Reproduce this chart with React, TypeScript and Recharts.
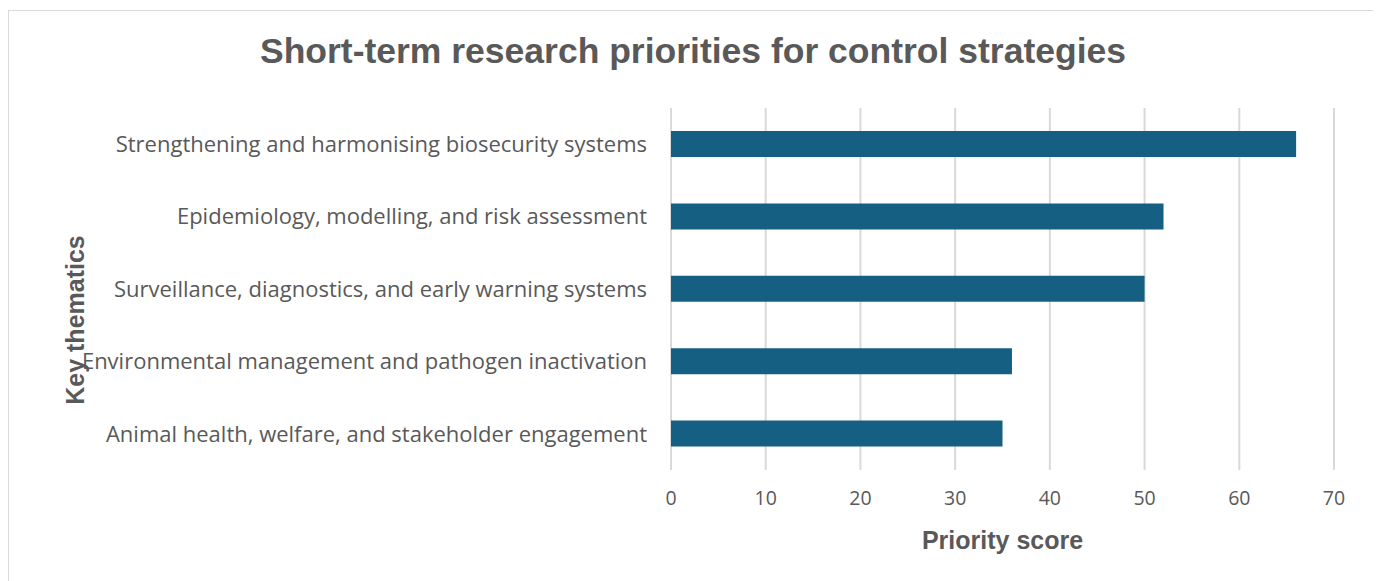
import React from "react";
import { BarChart, Bar, XAxis, YAxis, CartesianGrid, Label } from "recharts";

const themes = [
  "Strengthening and harmonising biosecurity systems",
  "Epidemiology, modelling, and risk assessment",
  "Surveillance, diagnostics, and early warning systems",
  "Environmental management and pathogen inactivation",
  "Animal health, welfare, and stakeholder engagement",
];
const scores = [66, 52, 50, 36, 35];
const xTicks = [0, 10, 20, 30, 40, 50, 60, 70];

const data = themes.map((name, i) => ({ name, score: scores[i] }));

const TEXT = "#595959";
const GRID = "#d9d9d9";
const BAR = "#156082";
const LABEL_FONT = "'Open Sans', sans-serif";
const TITLE_FONT = "'Liberation Sans', Arial, sans-serif";

// y axis title is centred on the whole chart box, not the plot
const YTitle = () => (
  <text
    x={66}
    y={309}
    transform="rotate(-90, 66, 309)"
    textAnchor="middle"
    dominantBaseline="central"
    fill={TEXT}
    fontSize={25}
    fontWeight={700}
    fontFamily={TITLE_FONT}
  >
    Key thematics
  </text>
);

export default function App() {
  return (
    <div
      style={{
        position: "relative",
        width: 1368,
        height: 575,
        marginTop: 2,
        border: `1px solid ${GRID}`,
        boxSizing: "border-box",
        background: "#fff",
      }}
    >
      <div
        style={{
          position: "absolute",
          top: 20,
          left: 0,
          width: 1368,
          textAlign: "center",
          fontFamily: TITLE_FONT,
          fontWeight: 700,
          fontSize: 35.5,
          color: TEXT,
        }}
      >
        Short-term research priorities for control strategies
      </div>
      <BarChart
        width={1366}
        height={573}
        data={data}
        layout="vertical"
        margin={{ top: 97, right: 41, left: 0, bottom: 0 }}
      >
        <CartesianGrid horizontal={false} stroke={GRID} strokeWidth={2} />
        <XAxis
          type="number"
          dataKey="score"
          domain={[0, 70]}
          ticks={xTicks}
          axisLine={false}
          tickLine={false}
          tickSize={0}
          tickMargin={21}
          tick={{ fill: TEXT, fontSize: 19.5, fontFamily: LABEL_FONT }}
          height={114}
        >
          <Label
            value="Priority score"
            position="insideBottom"
            offset={35}
            style={{ fill: TEXT, fontSize: 25, fontWeight: 700, fontFamily: TITLE_FONT }}
          />
        </XAxis>
        <YAxis
          type="category"
          dataKey="name"
          width={662}
          axisLine={false}
          tickLine={false}
          tickSize={0}
          tickMargin={24}
          tick={{ fill: TEXT, fontSize: 22, fontFamily: LABEL_FONT }}
        >
          <Label content={<YTitle />} />
        </YAxis>
        <Bar dataKey="score" fill={BAR} barSize={26} isAnimationActive={false} />
      </BarChart>
    </div>
  );
}
